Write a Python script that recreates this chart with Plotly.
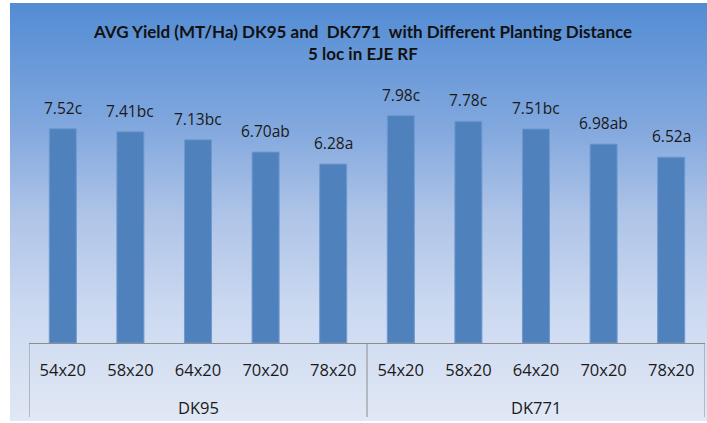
import base64
import plotly.graph_objects as go

groups = ["DK95"] * 5 + ["DK771"] * 5
spacings = ["54x20", "58x20", "64x20", "70x20", "78x20"] * 2
yields = [7.52, 7.41, 7.13, 6.70, 6.28, 7.98, 7.78, 7.51, 6.98, 6.52]
letters = ["c", "bc", "bc", "ab", "a", "c", "c", "bc", "ab", "a"]
title_lines = ["AVG Yield (MT/Ha) DK95 and  DK771  with Different Planting Distance",
               "5 loc in EJE RF"]

W, H = 707, 423
L, R, T, B = 29, 2, 58, 80
pw, ph = W - L - R, H - T - B
idx = list(range(len(yields)))

svg = (
    '<svg xmlns="http://www.w3.org/2000/svg" width="100" height="100" preserveAspectRatio="none">'
    '<defs><linearGradient id="g" x1="0" y1="0" x2="0" y2="1">'
    '<stop offset="0" stop-color="#538CD4"/>'
    '<stop offset="0.3" stop-color="#82A8DE"/>'
    '<stop offset="0.5" stop-color="#ADC3E7"/>'
    '<stop offset="0.72" stop-color="#CAD8F0"/>'
    '<stop offset="1" stop-color="#E1E8F5"/>'
    '</linearGradient></defs><rect width="100" height="100" fill="url(#g)"/></svg>'
)
src = "data:image/svg+xml;base64," + base64.b64encode(svg.encode()).decode()

fig = go.Figure()
fig.add_trace(go.Bar(
    x=idx, y=yields,
    marker=dict(color="#4F81BD", line=dict(color="#6E9AD0", width=1)),
    hoverinfo="skip",
))

lab_font = dict(family="Open Sans", size=15.5, color="#1a1a1a")
for i, v, l in zip(idx, yields, letters):
    fig.add_annotation(
        x=i, y=v, text=f"{v:.2f}{l}", showarrow=False,
        yanchor="bottom", yshift=8, font=lab_font,
    )

# group labels and dividers (derived from category positions)
grp_names = list(dict.fromkeys(groups))
bounds = []
for g in grp_names:
    members = [i for i, gg in zip(idx, groups) if gg == g]
    lo, hi = min(members) - 0.5, max(members) + 0.5
    bounds += [lo, hi]
    fig.add_annotation(
        x=(lo + hi) / 2, y=-(407 - (H - B)) / ph, xref="x", yref="paper",
        text=g, showarrow=False, yanchor="middle",
        font=dict(family="Open Sans", size=16.5, color="#1a1a1a"),
    )
for b in sorted(set(bounds)):
    fig.add_shape(
        type="line", xref="x", yref="paper", x0=b, x1=b,
        y0=0, y1=-(417 - (H - B)) / ph,
        line=dict(color="#8c8c8c", width=1),
    )

fig.add_layout_image(dict(
    source=src, xref="paper", yref="paper",
    x=(10 - L) / pw, y=(H - B - 3) / ph,
    sizex=(W - 10) / pw, sizey=(H - 3 - 2) / ph,
    xanchor="left", yanchor="top", sizing="stretch", layer="below",
))

fig.update_layout(
    width=W, height=H,
    margin=dict(l=L, r=R, t=T, b=B),
    paper_bgcolor="white",
    plot_bgcolor="rgba(0,0,0,0)",
    showlegend=False,
    bargap=0.6,
    title=dict(
        text="<b>" + "<br>".join(title_lines) + "</b>",
        x=363 / W, xanchor="center", y=1 - 38 / H, yanchor="middle",
        font=dict(family="Lato", size=17, color="#111111"),
    ),
    xaxis=dict(
        range=[-0.5, len(yields) - 0.5],
        tickmode="array", tickvals=idx, ticktext=spacings,
        showline=True, linecolor="#8c8c8c", linewidth=1,
        ticks="", ticklabelstandoff=12,
        tickfont=dict(family="Open Sans", size=16.5, color="#1a1a1a"),
        showgrid=False, zeroline=False,
    ),
    yaxis=dict(range=[0, 10], visible=False, showgrid=False),
)

fig.write_html("out.html")
